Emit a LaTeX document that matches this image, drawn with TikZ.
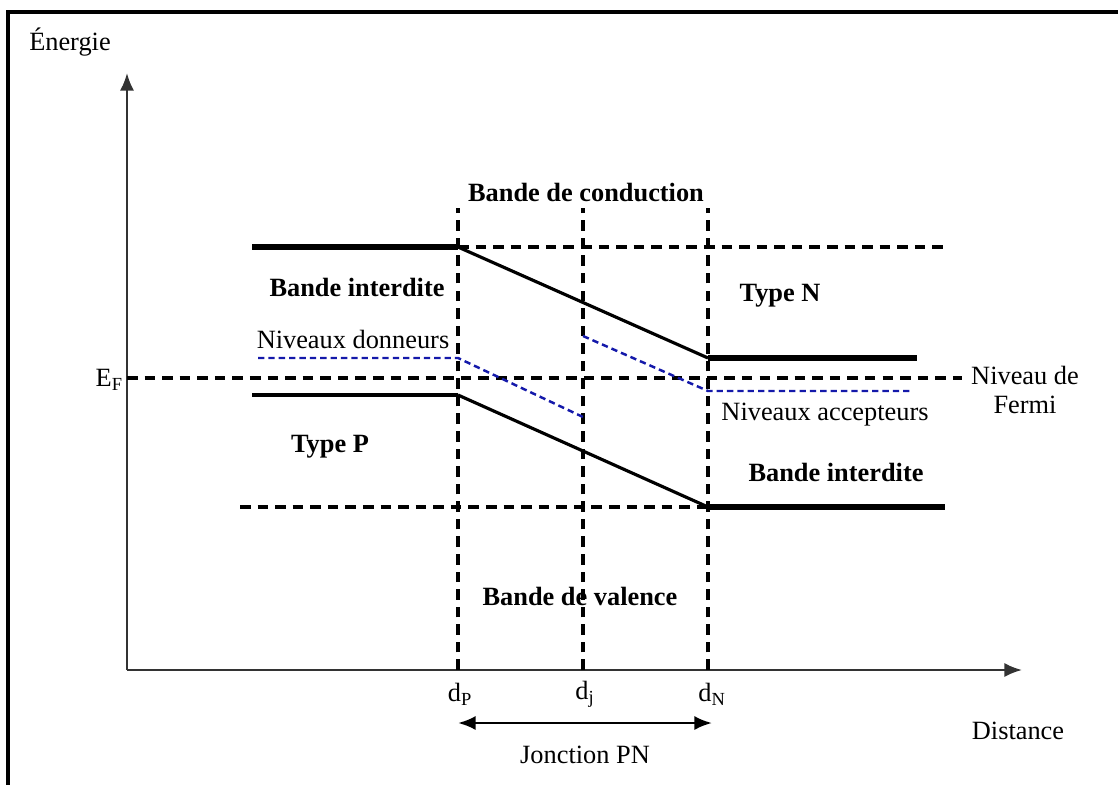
\documentclass[tikz,border=0pt]{standalone}
\usepackage{fontspec}
\setmainfont{Liberation Serif}
\usetikzlibrary{arrows.meta}
\definecolor{niveaublue}{RGB}{20,25,170}
\tikzset{
	bandline/.style={line width=3.1pt},
	slantline/.style={line width=1.8pt},
	blackdash/.style={line width=2.2pt, dash pattern=on 6pt off 4pt},
	bluedash/.style={line width=1.4pt, color=niveaublue, dash pattern=on 3.6pt off 2.3pt},
	axisline/.style={line width=1.3pt, color=black!80, -{Latex[length=10pt,width=8pt]}},
	lbl/.style={font=\fontsize{15}{17}\selectfont, inner sep=1pt},
	blbl/.style={lbl, font=\fontsize{15}{17}\selectfont\bfseries}
}

\begin{document}
\begin{tikzpicture}[x=0.02cm, y=-0.02cm]
			%%%%% START %%%%%
			\useasboundingbox (0, 0) rectangle (1118, 784);
			\draw[line width=1.9pt] (8, 12) rectangle (1125, 790);
			
			% axes
			\coordinate (O) at (127, 670);
			\draw[axisline] (O) -- (127, 73);
			\draw[axisline] (O) -- (1022, 670);
			\node[lbl] (energie) at (70, 42) {Énergie};
			\node[lbl] (distance) at (1018, 731) {Distance};
			
			% junction limits
			\coordinate (dP) at (458, 670);
			\coordinate (dj) at (583, 670);
			\coordinate (dN) at (708, 670);
			\draw[blackdash] (dP) -- (458, 208);
			\draw[blackdash] (dj) -- (583, 208);
			\draw[blackdash] (dN) -- (708, 208);
			\node[lbl] (labP) at (460, 694) {d\textsubscript{P}};
			\node[lbl] (labj) at (585, 694) {d\textsubscript{j}};
			\node[lbl] (labN) at (712, 694) {d\textsubscript{N}};
			\draw[line width=1.5pt, {Latex[length=10pt,width=8pt]}-{Latex[length=10pt,width=8pt]}] (458, 723) -- (712, 723);
			\node[lbl] (jonction) at (585, 755) {Jonction PN};
			
			% Fermi level
			\draw[blackdash] (127, 378) -- (962, 378);
			\node[lbl, anchor=east] (EF) at (125, 380) {E\textsubscript{F}};
			\node[lbl, align=center] (fermi) at (1025, 390) {Niveau de\\[-1pt]Fermi};
			
			% conduction band
			\draw[bandline] (252, 247) -- (458, 247);
			\draw[blackdash] (458, 247) -- (945, 247);
			\draw[slantline] (458, 247) -- (708, 358);
			\draw[bandline] (708, 358) -- (917, 358);
			
			% valence band
			\draw[line width=2.5pt] (252, 395) -- (458, 395);
			\draw[slantline] (458, 395) -- (708, 507);
			\draw[blackdash] (240, 507) -- (708, 507);
			\draw[bandline] (708, 507) -- (945, 507);
			
			% donor and acceptor levels
			\draw[bluedash] (258, 358) -- (458, 358) -- (583, 417);
			\draw[bluedash] (583, 336) -- (708, 391) -- (913, 391);
			
			\node[blbl] (conduction) at (586, 193) {Bande de conduction};
			\node[blbl] (interditeP) at (357, 287) {Bande interdite};
			\node[lbl] (donneurs) at (353, 339) {Niveaux donneurs};
			\node[blbl] (typeN) at (780, 296) {Type N};
			\node[lbl] (accepteurs) at (825, 415) {Niveaux accepteurs};
			\node[blbl] (typeP) at (330, 447) {Type P};
			\node[blbl] (interditeN) at (836, 472) {Bande interdite};
			\node[blbl] (valence) at (580, 596) {Bande de valence};
			
			%%%%% END %%%%%
		\end{tikzpicture}
\end{document}
